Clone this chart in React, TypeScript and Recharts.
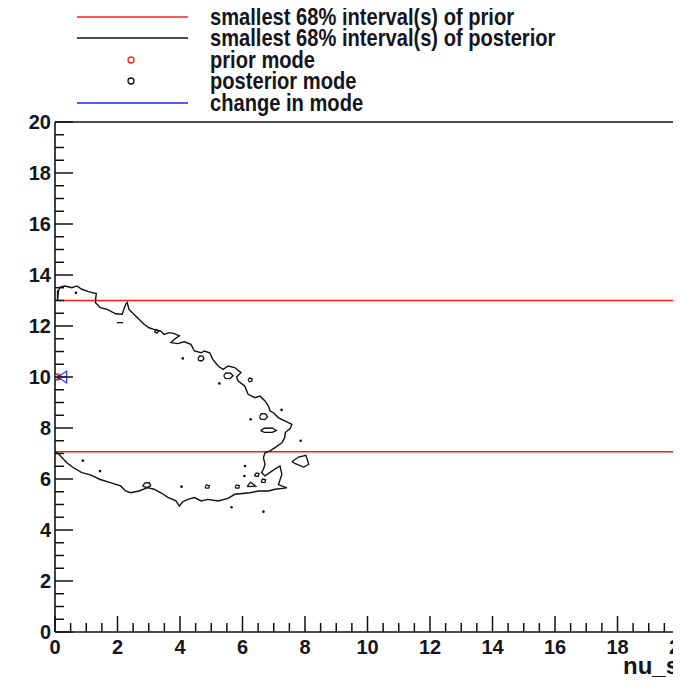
import React from "react";
import {
  ComposedChart,
  Line,
  Scatter,
  XAxis,
  YAxis,
  ReferenceLine,
} from "recharts";

// ---- tick values ----
const xTicks = [0, 0.5, 1, 1.5, 2, 2.5, 3, 3.5, 4, 4.5, 5, 5.5, 6, 6.5, 7, 7.5, 8, 8.5, 9, 9.5, 10, 10.5, 11, 11.5, 12, 12.5, 13, 13.5, 14, 14.5, 15, 15.5, 16, 16.5, 17, 17.5, 18, 18.5, 19, 19.5, 20];
const xMajor = [0, 2, 4, 6, 8, 10, 12, 14, 16, 18, 20];
const yTicks = [0, 0.5, 1, 1.5, 2, 2.5, 3, 3.5, 4, 4.5, 5, 5.5, 6, 6.5, 7, 7.5, 8, 8.5, 9, 9.5, 10, 10.5, 11, 11.5, 12, 12.5, 13, 13.5, 14, 14.5, 15, 15.5, 16, 16.5, 17, 17.5, 18, 18.5, 19, 19.5, 20];
const yMajor = [0, 2, 4, 6, 8, 10, 12, 14, 16, 18, 20];

// ---- prior interval (red lines) ----
const priorInterval = [7.07, 13.0];

// ---- modes ----
const priorMode = [{ x: 0.1, y: 10 }];
const posteriorMode = [{ x: 0.02, y: 10 }];
const modeChange = [{ x: 0.15, y: 10 }];

// ---- posterior 68% contour (main) ----
const contourMain = [
  { x: 0.08, y: 13.0 }, { x: 0.11, y: 13.37 }, { x: 0.16, y: 13.53 }, { x: 0.32, y: 13.57 },
  { x: 0.54, y: 13.5 }, { x: 0.7, y: 13.57 }, { x: 0.86, y: 13.44 }, { x: 1.07, y: 13.35 },
  { x: 1.32, y: 13.27 }, { x: 1.29, y: 12.92 }, { x: 1.45, y: 12.72 }, { x: 1.67, y: 12.65 },
  { x: 1.94, y: 12.48 }, { x: 2.15, y: 12.46 }, { x: 2.26, y: 12.85 }, { x: 2.31, y: 12.92 },
  { x: 2.37, y: 12.65 }, { x: 2.63, y: 12.33 }, { x: 2.85, y: 12.07 }, { x: 3.01, y: 11.93 },
  { x: 3.17, y: 11.87 }, { x: 3.39, y: 11.8 }, { x: 3.49, y: 11.67 }, { x: 3.65, y: 11.74 },
  { x: 3.82, y: 11.7 }, { x: 3.98, y: 11.61 }, { x: 3.82, y: 11.48 }, { x: 3.71, y: 11.35 },
  { x: 3.92, y: 11.31 }, { x: 4.14, y: 11.38 }, { x: 4.35, y: 11.28 }, { x: 4.46, y: 11.02 },
  { x: 4.68, y: 10.95 }, { x: 4.78, y: 11.02 }, { x: 4.95, y: 10.95 }, { x: 5.05, y: 10.69 },
  { x: 5.22, y: 10.43 }, { x: 5.38, y: 10.3 }, { x: 5.54, y: 10.43 }, { x: 5.75, y: 10.37 },
  { x: 5.95, y: 10.17 }, { x: 5.81, y: 10.0 }, { x: 5.86, y: 9.84 }, { x: 6.07, y: 9.65 },
  { x: 6.18, y: 9.32 }, { x: 6.4, y: 9.19 }, { x: 6.56, y: 9.25 }, { x: 6.72, y: 9.06 },
  { x: 6.83, y: 8.86 }, { x: 6.88, y: 8.67 }, { x: 6.99, y: 8.6 }, { x: 7.15, y: 8.4 },
  { x: 7.37, y: 8.27 }, { x: 7.58, y: 8.14 }, { x: 7.53, y: 7.99 }, { x: 7.37, y: 7.82 },
  { x: 7.35, y: 7.62 }, { x: 7.26, y: 7.42 }, { x: 7.04, y: 7.23 }, { x: 6.88, y: 7.1 },
  { x: 6.72, y: 7.03 }, { x: 6.67, y: 6.84 }, { x: 6.72, y: 6.58 }, { x: 6.67, y: 6.38 },
  { x: 6.61, y: 6.25 }, { x: 6.72, y: 6.12 }, { x: 6.94, y: 6.31 }, { x: 7.1, y: 6.44 },
  { x: 7.2, y: 6.51 }, { x: 7.26, y: 6.18 }, { x: 7.15, y: 5.78 }, { x: 7.42, y: 5.65 },
  { x: 7.04, y: 5.6 }, { x: 6.83, y: 5.53 }, { x: 6.51, y: 5.53 }, { x: 6.24, y: 5.46 },
  { x: 5.75, y: 5.4 }, { x: 5.54, y: 5.24 }, { x: 5.22, y: 5.14 }, { x: 4.89, y: 5.2 },
  { x: 4.68, y: 5.14 }, { x: 4.46, y: 5.27 }, { x: 4.25, y: 5.2 }, { x: 4.09, y: 5.11 },
  { x: 3.98, y: 4.94 }, { x: 3.87, y: 5.14 }, { x: 3.6, y: 5.29 }, { x: 3.39, y: 5.46 },
  { x: 3.17, y: 5.6 }, { x: 2.96, y: 5.66 }, { x: 2.69, y: 5.53 }, { x: 2.42, y: 5.46 },
  { x: 2.26, y: 5.53 }, { x: 2.1, y: 5.73 }, { x: 1.77, y: 5.86 }, { x: 1.45, y: 5.98 },
  { x: 1.13, y: 6.16 }, { x: 0.86, y: 6.25 }, { x: 0.59, y: 6.44 }, { x: 0.38, y: 6.64 },
  { x: 0.22, y: 6.84 }, { x: 0.11, y: 7.0 }, { x: 0.05, y: 7.05 },
];

// ---- small contour islands ----
const islandA = [{ x: 4.58, y: 10.73 }, { x: 4.63, y: 10.83 }, { x: 4.73, y: 10.82 }, { x: 4.77, y: 10.72 }, { x: 4.7, y: 10.63 }, { x: 4.6, y: 10.65 }, { x: 4.58, y: 10.73 }];
const islandB = [{ x: 5.4, y: 10.05 }, { x: 5.47, y: 10.16 }, { x: 5.62, y: 10.15 }, { x: 5.7, y: 10.05 }, { x: 5.6, y: 9.94 }, { x: 5.45, y: 9.95 }, { x: 5.4, y: 10.05 }];
const islandC = [{ x: 6.18, y: 9.88 }, { x: 6.22, y: 9.96 }, { x: 6.3, y: 9.94 }, { x: 6.3, y: 9.84 }, { x: 6.22, y: 9.81 }, { x: 6.18, y: 9.88 }];
const islandD = [{ x: 6.55, y: 8.44 }, { x: 6.6, y: 8.56 }, { x: 6.74, y: 8.55 }, { x: 6.8, y: 8.44 }, { x: 6.72, y: 8.33 }, { x: 6.58, y: 8.35 }, { x: 6.55, y: 8.44 }];
const islandE = [{ x: 6.58, y: 7.9 }, { x: 6.7, y: 7.99 }, { x: 6.95, y: 8.0 }, { x: 7.08, y: 7.9 }, { x: 6.95, y: 7.83 }, { x: 6.7, y: 7.83 }, { x: 6.58, y: 7.9 }];
const islandF = [{ x: 7.58, y: 6.68 }, { x: 7.79, y: 6.86 }, { x: 8.03, y: 6.93 }, { x: 8.12, y: 6.58 }, { x: 7.96, y: 6.47 }, { x: 7.69, y: 6.6 }, { x: 7.58, y: 6.68 }];
const islandG = [{ x: 2.8, y: 5.72 }, { x: 2.88, y: 5.85 }, { x: 3.02, y: 5.86 }, { x: 3.06, y: 5.74 }, { x: 2.95, y: 5.66 }, { x: 2.8, y: 5.72 }];
const islandH = [{ x: 4.8, y: 5.7 }, { x: 4.85, y: 5.77 }, { x: 4.94, y: 5.74 }, { x: 4.92, y: 5.64 }, { x: 4.83, y: 5.64 }, { x: 4.8, y: 5.7 }];
const islandI = [{ x: 5.76, y: 5.7 }, { x: 5.81, y: 5.77 }, { x: 5.9, y: 5.74 }, { x: 5.88, y: 5.64 }, { x: 5.79, y: 5.64 }, { x: 5.76, y: 5.7 }];
const islandJ = [{ x: 6.38, y: 6.12 }, { x: 6.44, y: 6.24 }, { x: 6.53, y: 6.22 }, { x: 6.5, y: 6.1 }, { x: 6.38, y: 6.12 }];
const islandK = [{ x: 6.15, y: 5.7 }, { x: 6.25, y: 5.88 }, { x: 6.42, y: 5.72 }, { x: 6.15, y: 5.7 }];
const islandL = [{ x: 6.6, y: 5.93 }, { x: 6.65, y: 6.0 }, { x: 6.74, y: 5.97 }, { x: 6.72, y: 5.87 }, { x: 6.62, y: 5.87 }, { x: 6.6, y: 5.93 }];
const islandM = [{ x: 3.18, y: 11.78 }, { x: 3.24, y: 11.86 }, { x: 3.32, y: 11.8 }, { x: 3.26, y: 11.72 }, { x: 3.18, y: 11.78 }];
const dashN = [{ x: 1.98, y: 12.13 }, { x: 2.18, y: 12.13 }];
const leftEdge = [{ x: 0.08, y: 13.0 }, { x: 0.08, y: 13.4 }];

const islands = [islandA, islandB, islandC, islandD, islandE, islandF, islandG, islandH, islandI, islandJ, islandK, islandL, islandM, dashN, leftEdge];

// ---- tiny single-bin contour dots ----
const contourDots = [
  { x: 0.67, y: 13.3 }, { x: 4.09, y: 10.73 }, { x: 5.26, y: 9.75 }, { x: 7.25, y: 8.71 },
  { x: 6.26, y: 8.34 }, { x: 7.86, y: 7.5 }, { x: 0.89, y: 6.72 }, { x: 1.44, y: 6.31 },
  { x: 4.05, y: 5.7 }, { x: 6.08, y: 6.51 }, { x: 6.06, y: 6.12 }, { x: 5.65, y: 4.89 },
  { x: 6.67, y: 4.72 },
];

const legendItems = [
  { label: "smallest 68% interval(s) of prior", kind: "line", color: "#ff2020" },
  { label: "smallest 68% interval(s) of posterior", kind: "line", color: "#111111" },
  { label: "prior mode", kind: "circle", color: "#ff2020" },
  { label: "posterior mode", kind: "circle", color: "#111111" },
  { label: "change in mode", kind: "line", color: "#2020ff" },
];

const FONT = "'Liberation Sans', Arial, Helvetica, sans-serif";
const TEXT = "#151520";

const XTick = (props: any) => {
  const { x, y, payload } = props;
  const v = payload.value;
  const major = xMajor.includes(v);
  return (
    <g>
      <line x1={x} y1={y} x2={x} y2={y - (major ? 16 : 9)} stroke="#111" strokeWidth={1.5} />
      {major && (
        <text
          x={x}
          y={y + 22}
          textAnchor="middle"
          fontFamily={FONT}
          fontWeight="bold"
          fontSize={20}
          fill={TEXT}
        >
          {v}
        </text>
      )}
    </g>
  );
};

const YTick = (props: any) => {
  const { x, y, payload } = props;
  const v = payload.value;
  const major = yMajor.includes(v);
  return (
    <g>
      <line x1={x} y1={y} x2={x + (major ? 18 : 9)} y2={y} stroke="#111" strokeWidth={1.5} />
      {major && (
        <text
          x={x - 4}
          y={y + 7}
          textAnchor="end"
          fontFamily={FONT}
          fontWeight="bold"
          fontSize={20}
          fill={TEXT}
        >
          {v}
        </text>
      )}
    </g>
  );
};

const Dot = (props: any) => {
  const { cx, cy } = props;
  return <circle cx={cx} cy={cy} r={1.3} fill="#111" />;
};

const OpenCircle = (color: string) => (props: any) => {
  const { cx, cy } = props;
  return <circle cx={cx} cy={cy} r={3} fill="none" stroke={color} strokeWidth={1.2} />;
};

const Arrow = (props: any) => {
  const { cx, cy } = props;
  return (
    <path
      d={`M${cx - 2},${cy} L${cx + 7},${cy - 6} L${cx + 7},${cy + 6} Z M${cx - 2},${cy} L${cx + 7},${cy}`}
      fill="none"
      stroke="#3030ff"
      strokeWidth={1.2}
    />
  );
};

const Legend = () => {
  const rows = [17, 38, 60, 81, 103];
  return (
    <svg width={681} height={120} style={{ position: "absolute", left: 0, top: 0 }}>
      {legendItems.map((it, i) => (
        <g key={it.label}>
          {it.kind === "line" ? (
            <line x1={77} x2={188} y1={rows[i]} y2={rows[i]} stroke={it.color} strokeWidth={1.6} />
          ) : (
            <circle cx={131} cy={rows[i]} r={3} fill="none" stroke={it.color} strokeWidth={1.3} />
          )}
          <text
            transform={`translate(210,${rows[i] + 8}) scale(0.86,1)`}
            fontFamily={FONT}
            fontWeight="bold"
            fontSize={23.4}
            fill={TEXT}
          >
            {it.label}
          </text>
        </g>
      ))}
    </svg>
  );
};

export default function App() {
  return (
    <div
      style={{
        position: "relative",
        width: 681,
        height: 685,
        margin: -8,
        overflow: "hidden",
        background: "#fff",
      }}
    >
      <ComposedChart width={720} height={685} margin={{ top: 122, right: 40, bottom: 0, left: 0 }}>
        <XAxis
          type="number"
          dataKey="x"
          domain={[0, 20]}
          allowDataOverflow
          ticks={xTicks}
          interval={0}
          tickSize={0}
          tickMargin={0}
          tickLine={false}
          tick={<XTick />}
          height={53}
          axisLine={{ stroke: "#111", strokeWidth: 1.6 }}
        />
        <YAxis
          type="number"
          dataKey="y"
          domain={[0, 20]}
          allowDataOverflow
          ticks={yTicks}
          interval={0}
          tickSize={0}
          tickMargin={0}
          tickLine={false}
          tick={<YTick />}
          width={55}
          axisLine={{ stroke: "#111", strokeWidth: 1.6 }}
        />
        <ReferenceLine y={20} stroke="#111" strokeWidth={1.6} />
        <ReferenceLine y={priorInterval[0]} stroke="#ff1a1a" strokeWidth={1.6} />
        <ReferenceLine y={priorInterval[1]} stroke="#ff1a1a" strokeWidth={1.6} />
        <Line
          data={contourMain}
          dataKey="y"
          type="linear"
          stroke="#111"
          strokeWidth={1.4}
          dot={false}
          isAnimationActive={false}
        />
        {islands.map((isl, i) => (
          <Line
            key={i}
            data={isl}
            dataKey="y"
            type="linear"
            stroke="#111"
            strokeWidth={1.3}
            dot={false}
            isAnimationActive={false}
          />
        ))}
        <Scatter data={contourDots} dataKey="y" shape={<Dot />} isAnimationActive={false} />
        <Scatter data={posteriorMode} dataKey="y" shape={OpenCircle("#111")} isAnimationActive={false} />
        <Scatter data={priorMode} dataKey="y" shape={OpenCircle("#ff2020")} isAnimationActive={false} />
        <Scatter data={modeChange} dataKey="y" shape={<Arrow />} isAnimationActive={false} />
      </ComposedChart>
      <Legend />
      <svg width={681} height={685} style={{ position: "absolute", left: 0, top: 0, pointerEvents: "none" }}>
        <text
          x={679}
          y={674}
          textAnchor="end"
          fontFamily={FONT}
          fontWeight="bold"
          fontSize={24}
          fill={TEXT}
        >
          nu_s
        </text>
      </svg>
    </div>
  );
}
